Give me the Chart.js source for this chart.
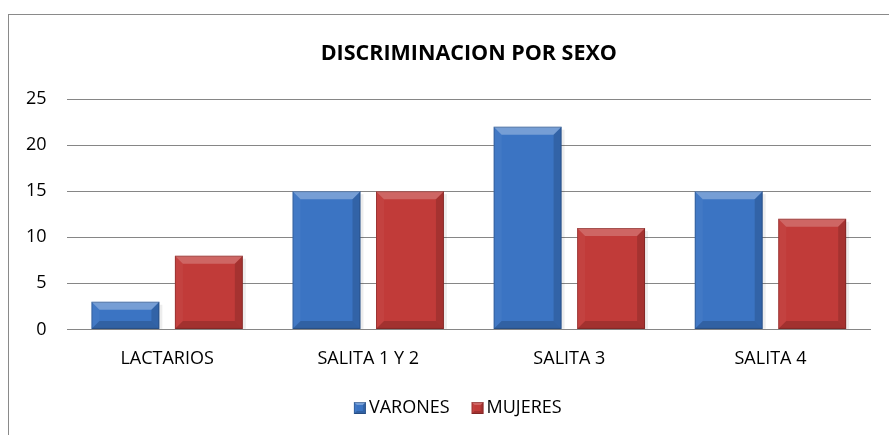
<!DOCTYPE html>
<html>
<head>
<meta charset="utf-8">
<script src="https://cdn.jsdelivr.net/npm/chart.js@4.4.1/dist/chart.umd.min.js"></script>
<style>
  html, body { margin: 0; padding: 0; background: #fff; overflow: hidden; }
  #frame { position: absolute; left: 8px; top: 14px; width: 900px; height: 440px;
           border-left: 1px solid #8a8a8a; border-top: 1px solid #8a8a8a; }
  #wrap { position: absolute; left: 0; top: 0; width: 889px; height: 435px; }
</style>
</head>
<body>
<div id="frame"></div>
<div id="wrap"><canvas id="chart"></canvas></div>
<script>
// chart data
const categories = ["LACTARIOS", "SALITA 1 Y 2", "SALITA 3", "SALITA 4"]
const varones = [3, 15, 22, 15]
const mujeres = [8, 15, 11, 12]
const yTicks = [0, 5, 10, 15, 20, 25]
const chartTitle = "DISCRIMINACION POR SEXO"

const FONT = "'Open Sans', Lato, 'Liberation Sans', sans-serif"
const colors = ["#3b74c3", "#c13b39"]

function poly(ctx, pts, col) {
  ctx.beginPath()
  ctx.moveTo(pts[0][0], pts[0][1])
  for (let k = 1; k < pts.length; k++) ctx.lineTo(pts[k][0], pts[k][1])
  ctx.closePath()
  ctx.fillStyle = col
  ctx.fill()
}

// office-like bevel on a rectangle
function bevel(ctx, l, t, r, b, size, light) {
  const bv = Math.min(size, (b - t) / 2, (r - l) / 2)
  poly(ctx, [[l, t], [r, t], [r - bv, t + bv], [l + bv, t + bv]], "rgba(255,255,255," + light + ")")
  poly(ctx, [[l, t], [l + bv, t + bv], [l + bv, b - bv], [l, b]], "rgba(255,255,255,0.04)")
  poly(ctx, [[r, t], [r, b], [r - bv, b - bv], [r - bv, t + bv]], "rgba(0,0,0,0.14)")
  poly(ctx, [[l, b], [l + bv, b - bv], [r - bv, b - bv], [r, b]], "rgba(0,0,0,0.16)")
  ctx.strokeStyle = "rgba(0,0,0,0.2)"
  ctx.lineWidth = 1
  ctx.strokeRect(l + 0.5, t + 0.5, r - l - 1, b - t - 1)
}

const bevelPlugin = {
  id: "bevel",
  afterDatasetsDraw(chart) {
    const ctx = chart.ctx
    chart.data.datasets.forEach((ds, i) => {
      const meta = chart.getDatasetMeta(i)
      meta.data.forEach((bar) => {
        ctx.save()
        // soft shadow
        ctx.fillStyle = "rgba(0,0,0,0.07)"
        ctx.fillRect(bar.x + bar.width / 2, bar.y + 3, 3, bar.base - bar.y - 3)
        bevel(ctx, bar.x - bar.width / 2, bar.y, bar.x + bar.width / 2, bar.base, 8, i === 0 ? 0.3 : 0.22)
        ctx.restore()
      })
    })
  },
}

// title and legend centred over the plot area, like the original
const titleLegendPlugin = {
  id: "titleLegend",
  afterDraw(chart) {
    const ctx = chart.ctx
    const area = chart.chartArea
    const cx = (area.left + area.right) / 2
    ctx.save()
    ctx.fillStyle = "#000"
    ctx.textBaseline = "middle"
    ctx.textAlign = "center"
    ctx.font = "bold 21.5px " + FONT
    ctx.fillText(chartTitle, cx, 54)

    ctx.font = "18px " + FONT
    ctx.textAlign = "left"
    const box = 12
    const gap = 3
    const itemGap = 22
    const items = chart.data.datasets.map((ds, i) => ({ label: ds.label, color: colors[i], w: ctx.measureText(ds.label).width }))
    const total = items.reduce((s, it) => s + box + gap + it.w, 0) + itemGap * (items.length - 1)
    let x = cx - 11 - total / 2
    const y = 408
    items.forEach((it, i) => {
      ctx.fillStyle = it.color
      ctx.fillRect(x, y - box / 2, box, box)
      bevel(ctx, x, y - box / 2, x + box, y + box / 2, 3, i === 0 ? 0.3 : 0.22)
      ctx.fillStyle = "#000"
      ctx.fillText(it.label, x + box + gap, y)
      x += box + gap + it.w + itemGap
    })
    ctx.restore()
  },
}

const chart = new Chart(document.getElementById("chart"), {
  type: "bar",
  data: {
    labels: categories,
    datasets: [
      { label: "VARONES", data: varones, backgroundColor: colors[0] },
      { label: "MUJERES", data: mujeres, backgroundColor: colors[1] },
    ],
  },
  options: {
    responsive: true,
    maintainAspectRatio: false,
    animation: false,
    categoryPercentage: 0.83,
    barPercentage: 0.814,
    layout: { padding: { left: 6, right: 18, top: 99, bottom: 46 } },
    plugins: {
      title: { display: false },
      legend: { display: false },
      tooltip: { enabled: false },
    },
    scales: {
      x: {
        grid: { display: false, drawTicks: false },
        border: { display: false },
        ticks: { color: "#000", font: { family: FONT, size: 18 }, padding: 19 },
      },
      y: {
        min: 0,
        max: 25,
        afterBuildTicks: (axis) => { axis.ticks = yTicks.map((v) => ({ value: v })) },
        grid: { color: "#868686", lineWidth: 1, drawTicks: false },
        border: { display: false },
        ticks: { color: "#000", font: { family: FONT, size: 18 }, padding: 20 },
      },
    },
  },
  plugins: [bevelPlugin, titleLegendPlugin],
})
</script>
</body>
</html>
